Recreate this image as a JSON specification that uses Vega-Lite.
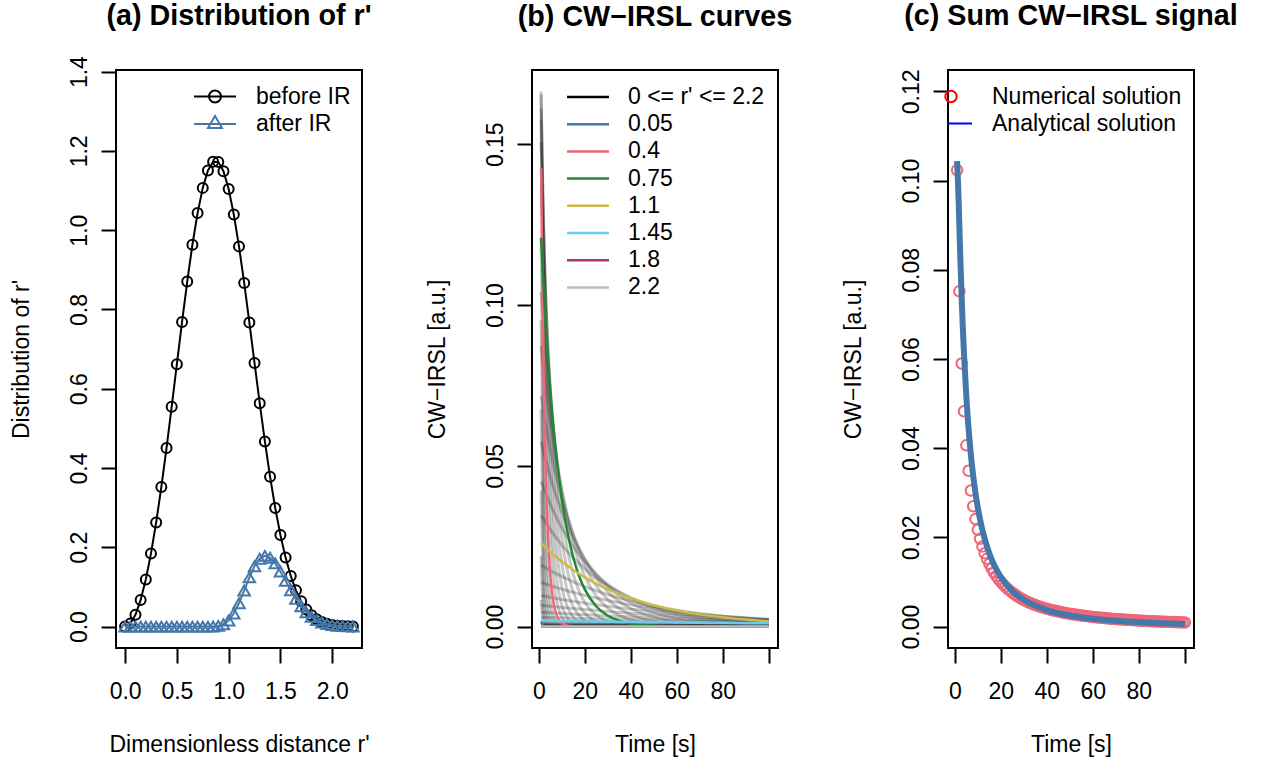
{
"$schema":"https://vega.github.io/schema/vega-lite/v6.json",
"background":"white",
"padding":{"left":9,"top":1,"right":5,"bottom":5},
"config":{
 "view":{"stroke":"black","strokeWidth":2},
 "font":"Liberation Sans",
 "axis":{"grid":false,"domain":false,"ticks":true,"tickSize":15,"tickWidth":2,"tickColor":"black","labelFont":"Liberation Sans","labelFontSize":23,"labelColor":"black","titleFont":"Liberation Sans","titleFontSize":23,"titleFontWeight":"normal","titleColor":"black","labelFlush":false,"labelOverlap":false,"labelBound":false},
 "axisX":{"labelPadding":35,"labelBaseline":"alphabetic","labelAngle":0,"labelAlign":"center","titleBaseline":"alphabetic","titleY":103},
 "axisY":{"labelAngle":270,"labelAlign":"center","labelBaseline":"alphabetic","labelPadding":15,"titleAngle":270,"titleX":-88,"titleBaseline":"alphabetic","titleAlign":"center"},
 "title":{"font":"Liberation Sans","fontSize":28.7,"fontWeight":"bold","color":"black","anchor":"middle","baseline":"alphabetic"},
 "legend":{"labelFont":"Liberation Sans","labelFontSize":23,"labelColor":"black","padding":0,"orient":"none","labelLimit":400,"symbolStrokeWidth":2,"rowPadding":3,"symbolOpacity":1}
},
"datasets":{
"dist":[
{"r":0,"v":0,"s":"before"},{"r":0.05,"v":0.0075,"s":"before"},{"r":0.1,"v":0.02997,"s":"before"},{"r":0.15,"v":0.06727,"s":"before"},{"r":0.2,"v":0.11904,"s":"before"},{"r":0.25,"v":0.18459,"s":"before"},{"r":0.3,"v":0.26281,"s":"before"},{"r":0.35,"v":0.35208,"s":"before"},{"r":0.4,"v":0.45024,"s":"before"},{"r":0.45,"v":0.55459,"s":"before"},{"r":0.5,"v":0.66188,"s":"before"},{"r":0.55,"v":0.76841,"s":"before"},{"r":0.6,"v":0.8702,"s":"before"},{"r":0.65,"v":0.96314,"s":"before"},{"r":0.7,"v":1.04314,"s":"before"},{"r":0.75,"v":1.10666,"s":"before"},{"r":0.8,"v":1.15066,"s":"before"},{"r":0.85,"v":1.17281,"s":"before"},{"r":0.9,"v":1.17223,"s":"before"},{"r":0.95,"v":1.14869,"s":"before"},{"r":1.0,"v":1.10364,"s":"before"},{"r":1.05,"v":1.03931,"s":"before"},{"r":1.1,"v":0.95908,"s":"before"},{"r":1.15,"v":0.86698,"s":"before"},{"r":1.2,"v":0.76736,"s":"before"},{"r":1.25,"v":0.66488,"s":"before"},{"r":1.3,"v":0.56353,"s":"before"},{"r":1.35,"v":0.46698,"s":"before"},{"r":1.4,"v":0.37815,"s":"before"},{"r":1.45,"v":0.29911,"s":"before"},{"r":1.5,"v":0.231,"s":"before"},{"r":1.55,"v":0.174,"s":"before"},{"r":1.6,"v":0.12774,"s":"before"},{"r":1.65,"v":0.09145,"s":"before"},{"r":1.7,"v":0.06369,"s":"before"},{"r":1.75,"v":0.04319,"s":"before"},{"r":1.8,"v":0.02848,"s":"before"},{"r":1.85,"v":0.01828,"s":"before"},{"r":1.9,"v":0.01137,"s":"before"},{"r":1.95,"v":0.00687,"s":"before"},{"r":2.0,"v":0.00403,"s":"before"},{"r":2.05,"v":0.00228,"s":"before"},{"r":2.1,"v":0.00126,"s":"before"},{"r":2.15,"v":0.00067,"s":"before"},{"r":2.2,"v":0.00034,"s":"before"},
{"r":0,"v":0,"s":"after"},{"r":0.05,"v":0,"s":"after"},{"r":0.1,"v":0,"s":"after"},{"r":0.15,"v":0,"s":"after"},{"r":0.2,"v":0,"s":"after"},{"r":0.25,"v":0,"s":"after"},{"r":0.3,"v":0,"s":"after"},{"r":0.35,"v":0,"s":"after"},{"r":0.4,"v":0,"s":"after"},{"r":0.45,"v":0,"s":"after"},{"r":0.5,"v":0,"s":"after"},{"r":0.55,"v":0,"s":"after"},{"r":0.6,"v":0,"s":"after"},{"r":0.65,"v":0,"s":"after"},{"r":0.7,"v":0,"s":"after"},{"r":0.75,"v":0,"s":"after"},{"r":0.8,"v":0.00005,"s":"after"},{"r":0.85,"v":0.00037,"s":"after"},{"r":0.9,"v":0.00171,"s":"after"},{"r":0.95,"v":0.00586,"s":"after"},{"r":1.0,"v":0.01548,"s":"after"},{"r":1.05,"v":0.03303,"s":"after"},{"r":1.1,"v":0.05903,"s":"after"},{"r":1.15,"v":0.091,"s":"after"},{"r":1.2,"v":0.12404,"s":"after"},{"r":1.25,"v":0.15236,"s":"after"},{"r":1.3,"v":0.17126,"s":"after"},{"r":1.35,"v":0.17828,"s":"after"},{"r":1.4,"v":0.17361,"s":"after"},{"r":1.45,"v":0.15942,"s":"after"},{"r":1.5,"v":0.13889,"s":"after"},{"r":1.55,"v":0.11533,"s":"after"},{"r":1.6,"v":0.09161,"s":"after"},{"r":1.65,"v":0.06989,"s":"after"},{"r":1.7,"v":0.05125,"s":"after"},{"r":1.75,"v":0.03623,"s":"after"},{"r":1.8,"v":0.02471,"s":"after"},{"r":1.85,"v":0.0163,"s":"after"},{"r":1.9,"v":0.01036,"s":"after"},{"r":1.95,"v":0.00637,"s":"after"},{"r":2.0,"v":0.00379,"s":"after"},{"r":2.05,"v":0.00217,"s":"after"},{"r":2.1,"v":0.00121,"s":"after"},{"r":2.15,"v":0.00065,"s":"after"},{"r":2.2,"v":0.00033,"s":"after"}
],
"curves":[
{"r":0,"t":1,"L":0},{"r":0,"t":100,"L":0},
{"r":0.05,"s":"0.05","t":1,"L":0.00161},{"r":0.05,"s":"0.05","t":2,"L":0.00014},{"r":0.05,"s":"0.05","t":3,"L":0.00001},{"r":0.05,"s":"0.05","t":4,"L":0},{"r":0.05,"s":"0.05","t":100,"L":0},
{"r":0.1,"t":1,"L":0.00827},{"r":0.1,"t":2,"L":0.00116},{"r":0.1,"t":3,"L":0.00016},{"r":0.1,"t":4,"L":0.00002},{"r":0.1,"t":5,"L":0},{"r":0.1,"t":100,"L":0},
{"r":0.15,"t":1,"L":0.02185},{"r":0.15,"t":2,"L":0.00448},{"r":0.15,"t":3,"L":0.00092},{"r":0.15,"t":4,"L":0.00019},{"r":0.15,"t":5,"L":0.00004},{"r":0.15,"t":6,"L":0},{"r":0.15,"t":100,"L":0},
{"r":0.2,"t":1,"L":0.04235},{"r":0.2,"t":2,"L":0.01176},{"r":0.2,"t":3,"L":0.00326},{"r":0.2,"t":4,"L":0.00091},{"r":0.2,"t":5,"L":0.00025},{"r":0.2,"t":6,"L":0.00007},{"r":0.2,"t":7,"L":0.00002},{"r":0.2,"t":8,"L":0},{"r":0.2,"t":100,"L":0},
{"r":0.25,"t":1,"L":0.06749},{"r":0.25,"t":2,"L":0.02382},{"r":0.25,"t":3,"L":0.00841},{"r":0.25,"t":4,"L":0.00297},{"r":0.25,"t":5,"L":0.00105},{"r":0.25,"t":6,"L":0.00037},{"r":0.25,"t":7,"L":0.00013},{"r":0.25,"t":8,"L":0.00005},{"r":0.25,"t":9,"L":0.00002},{"r":0.25,"t":10,"L":0},{"r":0.25,"t":100,"L":0},
{"r":0.3,"t":1,"L":0.09526},{"r":0.3,"t":2,"L":0.04122},{"r":0.3,"t":3,"L":0.01784},{"r":0.3,"t":4,"L":0.00772},{"r":0.3,"t":5,"L":0.00334},{"r":0.3,"t":6,"L":0.00145},{"r":0.3,"t":7,"L":0.00063},{"r":0.3,"t":8,"L":0.00027},{"r":0.3,"t":9,"L":0.00012},{"r":0.3,"t":10,"L":0.00005},{"r":0.3,"t":11,"L":0.00002},{"r":0.3,"t":12,"L":0},{"r":0.3,"t":100,"L":0},
{"r":0.35,"t":1,"L":0.12112},{"r":0.35,"t":2,"L":0.06154},{"r":0.35,"t":3,"L":0.03127},{"r":0.35,"t":4,"L":0.01589},{"r":0.35,"t":5,"L":0.00807},{"r":0.35,"t":6,"L":0.0041},{"r":0.35,"t":7,"L":0.00208},{"r":0.35,"t":8,"L":0.00106},{"r":0.35,"t":9,"L":0.00054},{"r":0.35,"t":10,"L":0.00027},{"r":0.35,"t":12,"L":0.00007},{"r":0.35,"t":14,"L":0.00002},{"r":0.35,"t":16,"L":0},{"r":0.35,"t":100,"L":0},
{"r":0.4,"s":"0.4","t":1,"L":0.14256},{"r":0.4,"s":"0.4","t":2,"L":0.08246},{"r":0.4,"s":"0.4","t":3,"L":0.0477},{"r":0.4,"s":"0.4","t":4,"L":0.02759},{"r":0.4,"s":"0.4","t":5,"L":0.01596},{"r":0.4,"s":"0.4","t":6,"L":0.00923},{"r":0.4,"s":"0.4","t":7,"L":0.00534},{"r":0.4,"s":"0.4","t":8,"L":0.00309},{"r":0.4,"s":"0.4","t":9,"L":0.00179},{"r":0.4,"s":"0.4","t":10,"L":0.00103},{"r":0.4,"s":"0.4","t":12,"L":0.00035},{"r":0.4,"s":"0.4","t":14,"L":0.00012},{"r":0.4,"s":"0.4","t":16,"L":0.00004},{"r":0.4,"s":"0.4","t":18,"L":0.00001},{"r":0.4,"s":"0.4","t":20,"L":0},{"r":0.4,"s":"0.4","t":100,"L":0},
{"r":0.45,"t":1,"L":0.15766},{"r":0.45,"t":2,"L":0.10128},{"r":0.45,"t":3,"L":0.06507},{"r":0.45,"t":4,"L":0.0418},{"r":0.45,"t":5,"L":0.02685},{"r":0.45,"t":6,"L":0.01725},{"r":0.45,"t":7,"L":0.01108},{"r":0.45,"t":8,"L":0.00712},{"r":0.45,"t":9,"L":0.00457},{"r":0.45,"t":10,"L":0.00294},{"r":0.45,"t":12,"L":0.00121},{"r":0.45,"t":14,"L":0.0005},{"r":0.45,"t":16,"L":0.00021},{"r":0.45,"t":18,"L":0.00009},{"r":0.45,"t":20,"L":0.00004},{"r":0.45,"t":25,"L":0},{"r":0.45,"t":100,"L":0},
{"r":0.5,"t":1,"L":0.16557},{"r":0.5,"t":2,"L":0.11577},{"r":0.5,"t":3,"L":0.08095},{"r":0.5,"t":4,"L":0.0566},{"r":0.5,"t":5,"L":0.03958},{"r":0.5,"t":6,"L":0.02768},{"r":0.5,"t":7,"L":0.01935},{"r":0.5,"t":8,"L":0.01353},{"r":0.5,"t":9,"L":0.00946},{"r":0.5,"t":10,"L":0.00662},{"r":0.5,"t":12,"L":0.00323},{"r":0.5,"t":14,"L":0.00158},{"r":0.5,"t":16,"L":0.00077},{"r":0.5,"t":18,"L":0.00038},{"r":0.5,"t":20,"L":0.00018},{"r":0.5,"t":25,"L":0.00003},{"r":0.5,"t":30,"L":0.00001},{"r":0.5,"t":40,"L":0},{"r":0.5,"t":100,"L":0},
{"r":0.55,"t":1,"L":0.16643},{"r":0.55,"t":2,"L":0.12463},{"r":0.55,"t":3,"L":0.09332},{"r":0.55,"t":4,"L":0.06988},{"r":0.55,"t":5,"L":0.05233},{"r":0.55,"t":6,"L":0.03919},{"r":0.55,"t":7,"L":0.02934},{"r":0.55,"t":8,"L":0.02197},{"r":0.55,"t":9,"L":0.01646},{"r":0.55,"t":10,"L":0.01232},{"r":0.55,"t":12,"L":0.00691},{"r":0.55,"t":14,"L":0.00387},{"r":0.55,"t":16,"L":0.00217},{"r":0.55,"t":18,"L":0.00122},{"r":0.55,"t":20,"L":0.00068},{"r":0.55,"t":25,"L":0.00016},{"r":0.55,"t":30,"L":0.00004},{"r":0.55,"t":35,"L":0.00001},{"r":0.55,"t":40,"L":0},{"r":0.55,"t":100,"L":0},
{"r":0.6,"t":1,"L":0.16105},{"r":0.6,"t":2,"L":0.12747},{"r":0.6,"t":3,"L":0.10089},{"r":0.6,"t":4,"L":0.07986},{"r":0.6,"t":5,"L":0.06321},{"r":0.6,"t":6,"L":0.05003},{"r":0.6,"t":7,"L":0.0396},{"r":0.6,"t":8,"L":0.03134},{"r":0.6,"t":9,"L":0.02481},{"r":0.6,"t":10,"L":0.01964},{"r":0.6,"t":12,"L":0.0123},{"r":0.6,"t":14,"L":0.00771},{"r":0.6,"t":16,"L":0.00483},{"r":0.6,"t":18,"L":0.00302},{"r":0.6,"t":20,"L":0.00189},{"r":0.6,"t":25,"L":0.00059},{"r":0.6,"t":30,"L":0.00018},{"r":0.6,"t":35,"L":0.00006},{"r":0.6,"t":40,"L":0.00002},{"r":0.6,"t":50,"L":0},{"r":0.6,"t":100,"L":0},
{"r":0.65,"t":1,"L":0.1507},{"r":0.65,"t":2,"L":0.12474},{"r":0.65,"t":3,"L":0.10326},{"r":0.65,"t":4,"L":0.08547},{"r":0.65,"t":5,"L":0.07075},{"r":0.65,"t":6,"L":0.05857},{"r":0.65,"t":7,"L":0.04848},{"r":0.65,"t":8,"L":0.04013},{"r":0.65,"t":9,"L":0.03322},{"r":0.65,"t":10,"L":0.0275},{"r":0.65,"t":12,"L":0.01884},{"r":0.65,"t":14,"L":0.01291},{"r":0.65,"t":16,"L":0.00885},{"r":0.65,"t":18,"L":0.00606},{"r":0.65,"t":20,"L":0.00415},{"r":0.65,"t":25,"L":0.00161},{"r":0.65,"t":30,"L":0.00063},{"r":0.65,"t":35,"L":0.00024},{"r":0.65,"t":40,"L":0.00009},{"r":0.65,"t":50,"L":0.00001},{"r":0.65,"t":60,"L":0},{"r":0.65,"t":100,"L":0},
{"r":0.7,"t":1,"L":0.13682},{"r":0.7,"t":2,"L":0.11743},{"r":0.7,"t":3,"L":0.10079},{"r":0.7,"t":4,"L":0.08651},{"r":0.7,"t":5,"L":0.07425},{"r":0.7,"t":6,"L":0.06372},{"r":0.7,"t":7,"L":0.05469},{"r":0.7,"t":8,"L":0.04694},{"r":0.7,"t":9,"L":0.04029},{"r":0.7,"t":10,"L":0.03458},{"r":0.7,"t":12,"L":0.02547},{"r":0.7,"t":14,"L":0.01877},{"r":0.7,"t":16,"L":0.01382},{"r":0.7,"t":18,"L":0.01018},{"r":0.7,"t":20,"L":0.0075},{"r":0.7,"t":25,"L":0.00349},{"r":0.7,"t":30,"L":0.00163},{"r":0.7,"t":35,"L":0.00076},{"r":0.7,"t":40,"L":0.00035},{"r":0.7,"t":50,"L":0.00008},{"r":0.7,"t":60,"L":0.00002},{"r":0.7,"t":70,"L":0},{"r":0.7,"t":100,"L":0},
{"r":0.75,"s":"0.75","t":1,"L":0.12083},{"r":0.75,"s":"0.75","t":2,"L":0.10679},{"r":0.75,"s":"0.75","t":3,"L":0.09438},{"r":0.75,"s":"0.75","t":4,"L":0.08341},{"r":0.75,"s":"0.75","t":5,"L":0.07372},{"r":0.75,"s":"0.75","t":6,"L":0.06515},{"r":0.75,"s":"0.75","t":7,"L":0.05758},{"r":0.75,"s":"0.75","t":8,"L":0.05089},{"r":0.75,"s":"0.75","t":9,"L":0.04498},{"r":0.75,"s":"0.75","t":10,"L":0.03975},{"r":0.75,"s":"0.75","t":12,"L":0.03105},{"r":0.75,"s":"0.75","t":14,"L":0.02425},{"r":0.75,"s":"0.75","t":16,"L":0.01894},{"r":0.75,"s":"0.75","t":18,"L":0.0148},{"r":0.75,"s":"0.75","t":20,"L":0.01156},{"r":0.75,"s":"0.75","t":25,"L":0.00623},{"r":0.75,"s":"0.75","t":30,"L":0.00336},{"r":0.75,"s":"0.75","t":35,"L":0.00181},{"r":0.75,"s":"0.75","t":40,"L":0.00098},{"r":0.75,"s":"0.75","t":50,"L":0.00028},{"r":0.75,"s":"0.75","t":60,"L":0.00008},{"r":0.75,"s":"0.75","t":70,"L":0.00002},{"r":0.75,"s":"0.75","t":80,"L":0.00001},{"r":0.75,"s":"0.75","t":100,"L":0},
{"r":0.8,"t":1,"L":0.104},{"r":0.8,"t":2,"L":0.09411},{"r":0.8,"t":3,"L":0.08517},{"r":0.8,"t":4,"L":0.07707},{"r":0.8,"t":5,"L":0.06975},{"r":0.8,"t":6,"L":0.06312},{"r":0.8,"t":7,"L":0.05712},{"r":0.8,"t":8,"L":0.05169},{"r":0.8,"t":9,"L":0.04678},{"r":0.8,"t":10,"L":0.04233},{"r":0.8,"t":12,"L":0.03467},{"r":0.8,"t":14,"L":0.02839},{"r":0.8,"t":16,"L":0.02325},{"r":0.8,"t":18,"L":0.01904},{"r":0.8,"t":20,"L":0.01559},{"r":0.8,"t":25,"L":0.00946},{"r":0.8,"t":30,"L":0.00574},{"r":0.8,"t":35,"L":0.00349},{"r":0.8,"t":40,"L":0.00212},{"r":0.8,"t":50,"L":0.00078},{"r":0.8,"t":60,"L":0.00029},{"r":0.8,"t":70,"L":0.00011},{"r":0.8,"t":80,"L":0.00004},{"r":0.8,"t":90,"L":0.00001},{"r":0.8,"t":100,"L":0.00001},
{"r":0.85,"t":1,"L":0.08735},{"r":0.85,"t":2,"L":0.08058},{"r":0.85,"t":3,"L":0.07433},{"r":0.85,"t":4,"L":0.06856},{"r":0.85,"t":5,"L":0.06324},{"r":0.85,"t":6,"L":0.05834},{"r":0.85,"t":7,"L":0.05381},{"r":0.85,"t":8,"L":0.04964},{"r":0.85,"t":9,"L":0.04579},{"r":0.85,"t":10,"L":0.04224},{"r":0.85,"t":12,"L":0.03594},{"r":0.85,"t":14,"L":0.03058},{"r":0.85,"t":16,"L":0.02602},{"r":0.85,"t":18,"L":0.02214},{"r":0.85,"t":20,"L":0.01884},{"r":0.85,"t":25,"L":0.01258},{"r":0.85,"t":30,"L":0.0084},{"r":0.85,"t":35,"L":0.00561},{"r":0.85,"t":40,"L":0.00375},{"r":0.85,"t":50,"L":0.00167},{"r":0.85,"t":60,"L":0.00075},{"r":0.85,"t":70,"L":0.00033},{"r":0.85,"t":80,"L":0.00015},{"r":0.85,"t":90,"L":0.00007},{"r":0.85,"t":100,"L":0.00003},
{"r":0.9,"t":1,"L":0.07169},{"r":0.9,"t":2,"L":0.06716},{"r":0.9,"t":3,"L":0.06291},{"r":0.9,"t":4,"L":0.05894},{"r":0.9,"t":5,"L":0.05521},{"r":0.9,"t":6,"L":0.05172},{"r":0.9,"t":8,"L":0.04539},{"r":0.9,"t":10,"L":0.03984},{"r":0.9,"t":12,"L":0.03496},{"r":0.9,"t":15,"L":0.02874},{"r":0.9,"t":20,"L":0.02074},{"r":0.9,"t":25,"L":0.01496},{"r":0.9,"t":30,"L":0.0108},{"r":0.9,"t":40,"L":0.00562},{"r":0.9,"t":50,"L":0.00293},{"r":0.9,"t":60,"L":0.00152},{"r":0.9,"t":70,"L":0.00079},{"r":0.9,"t":80,"L":0.00041},{"r":0.9,"t":90,"L":0.00021},{"r":0.9,"t":100,"L":0.00011},
{"r":0.95,"t":1,"L":0.0575},{"r":0.95,"t":2,"L":0.05455},{"r":0.95,"t":3,"L":0.05174},{"r":0.95,"t":4,"L":0.04908},{"r":0.95,"t":5,"L":0.04656},{"r":0.95,"t":6,"L":0.04417},{"r":0.95,"t":8,"L":0.03974},{"r":0.95,"t":10,"L":0.03576},{"r":0.95,"t":12,"L":0.03218},{"r":0.95,"t":15,"L":0.02747},{"r":0.95,"t":20,"L":0.0211},{"r":0.95,"t":25,"L":0.0162},{"r":0.95,"t":30,"L":0.01245},{"r":0.95,"t":40,"L":0.00734},{"r":0.95,"t":50,"L":0.00433},{"r":0.95,"t":60,"L":0.00256},{"r":0.95,"t":70,"L":0.00151},{"r":0.95,"t":80,"L":0.00089},{"r":0.95,"t":90,"L":0.00052},{"r":0.95,"t":100,"L":0.00031},
{"r":1.0,"t":1,"L":0.04512},{"r":1.0,"t":2,"L":0.04323},{"r":1.0,"t":3,"L":0.04143},{"r":1.0,"t":4,"L":0.0397},{"r":1.0,"t":5,"L":0.03804},{"r":1.0,"t":6,"L":0.03645},{"r":1.0,"t":8,"L":0.03347},{"r":1.0,"t":10,"L":0.03073},{"r":1.0,"t":12,"L":0.02822},{"r":1.0,"t":15,"L":0.02483},{"r":1.0,"t":20,"L":0.02006},{"r":1.0,"t":25,"L":0.01621},{"r":1.0,"t":30,"L":0.01309},{"r":1.0,"t":40,"L":0.00855},{"r":1.0,"t":50,"L":0.00558},{"r":1.0,"t":60,"L":0.00364},{"r":1.0,"t":70,"L":0.00238},{"r":1.0,"t":80,"L":0.00155},{"r":1.0,"t":90,"L":0.00101},{"r":1.0,"t":100,"L":0.00066},
{"r":1.05,"t":1,"L":0.03463},{"r":1.05,"t":2,"L":0.03346},{"r":1.05,"t":3,"L":0.03232},{"r":1.05,"t":4,"L":0.03123},{"r":1.05,"t":5,"L":0.03017},{"r":1.05,"t":6,"L":0.02915},{"r":1.05,"t":8,"L":0.0272},{"r":1.05,"t":10,"L":0.02539},{"r":1.05,"t":12,"L":0.0237},{"r":1.05,"t":15,"L":0.02137},{"r":1.05,"t":20,"L":0.01798},{"r":1.05,"t":25,"L":0.01513},{"r":1.05,"t":30,"L":0.01274},{"r":1.05,"t":40,"L":0.00902},{"r":1.05,"t":50,"L":0.00639},{"r":1.05,"t":60,"L":0.00453},{"r":1.05,"t":70,"L":0.00321},{"r":1.05,"t":80,"L":0.00227},{"r":1.05,"t":90,"L":0.00161},{"r":1.05,"t":100,"L":0.00114},
{"r":1.1,"s":"1.1","t":1,"L":0.02601},{"r":1.1,"s":"1.1","t":2,"L":0.02529},{"r":1.1,"s":"1.1","t":3,"L":0.0246},{"r":1.1,"s":"1.1","t":4,"L":0.02392},{"r":1.1,"s":"1.1","t":5,"L":0.02326},{"r":1.1,"s":"1.1","t":6,"L":0.02262},{"r":1.1,"s":"1.1","t":8,"L":0.0214},{"r":1.1,"s":"1.1","t":10,"L":0.02024},{"r":1.1,"s":"1.1","t":12,"L":0.01914},{"r":1.1,"s":"1.1","t":15,"L":0.0176},{"r":1.1,"s":"1.1","t":20,"L":0.01531},{"r":1.1,"s":"1.1","t":25,"L":0.01332},{"r":1.1,"s":"1.1","t":30,"L":0.01159},{"r":1.1,"s":"1.1","t":40,"L":0.00877},{"r":1.1,"s":"1.1","t":50,"L":0.00663},{"r":1.1,"s":"1.1","t":60,"L":0.00502},{"r":1.1,"s":"1.1","t":70,"L":0.0038},{"r":1.1,"s":"1.1","t":80,"L":0.00287},{"r":1.1,"s":"1.1","t":90,"L":0.00217},{"r":1.1,"s":"1.1","t":100,"L":0.00165},
{"r":1.15,"t":1,"L":0.01911},{"r":1.15,"t":2,"L":0.01868},{"r":1.15,"t":3,"L":0.01827},{"r":1.15,"t":4,"L":0.01786},{"r":1.15,"t":5,"L":0.01746},{"r":1.15,"t":6,"L":0.01707},{"r":1.15,"t":8,"L":0.01632},{"r":1.15,"t":10,"L":0.0156},{"r":1.15,"t":12,"L":0.01491},{"r":1.15,"t":15,"L":0.01394},{"r":1.15,"t":20,"L":0.01245},{"r":1.15,"t":25,"L":0.01112},{"r":1.15,"t":30,"L":0.00994},{"r":1.15,"t":40,"L":0.00793},{"r":1.15,"t":50,"L":0.00633},{"r":1.15,"t":60,"L":0.00505},{"r":1.15,"t":70,"L":0.00403},{"r":1.15,"t":80,"L":0.00322},{"r":1.15,"t":90,"L":0.00257},{"r":1.15,"t":100,"L":0.00205},
{"r":1.2,"t":1,"L":0.01373},{"r":1.2,"t":2,"L":0.01348},{"r":1.2,"t":3,"L":0.01324},{"r":1.2,"t":4,"L":0.013},{"r":1.2,"t":5,"L":0.01277},{"r":1.2,"t":6,"L":0.01254},{"r":1.2,"t":8,"L":0.01209},{"r":1.2,"t":10,"L":0.01165},{"r":1.2,"t":12,"L":0.01124},{"r":1.2,"t":15,"L":0.01064},{"r":1.2,"t":20,"L":0.00971},{"r":1.2,"t":25,"L":0.00887},{"r":1.2,"t":30,"L":0.00809},{"r":1.2,"t":40,"L":0.00675},{"r":1.2,"t":50,"L":0.00562},{"r":1.2,"t":60,"L":0.00469},{"r":1.2,"t":70,"L":0.0039},{"r":1.2,"t":80,"L":0.00325},{"r":1.2,"t":90,"L":0.00271},{"r":1.2,"t":100,"L":0.00226},
{"r":1.25,"t":1,"L":0.00965},{"r":1.25,"t":10,"L":0.00845},{"r":1.25,"t":20,"L":0.0073},{"r":1.25,"t":30,"L":0.0063},{"r":1.25,"t":40,"L":0.00543},{"r":1.25,"t":50,"L":0.00469},{"r":1.25,"t":60,"L":0.00405},{"r":1.25,"t":70,"L":0.00349},{"r":1.25,"t":80,"L":0.00301},{"r":1.25,"t":90,"L":0.0026},{"r":1.25,"t":100,"L":0.00224},
{"r":1.3,"t":1,"L":0.00663},{"r":1.3,"t":10,"L":0.00596},{"r":1.3,"t":20,"L":0.00529},{"r":1.3,"t":30,"L":0.0047},{"r":1.3,"t":40,"L":0.00417},{"r":1.3,"t":50,"L":0.0037},{"r":1.3,"t":60,"L":0.00328},{"r":1.3,"t":70,"L":0.00292},{"r":1.3,"t":80,"L":0.00259},{"r":1.3,"t":90,"L":0.0023},{"r":1.3,"t":100,"L":0.00204},
{"r":1.35,"t":1,"L":0.00445},{"r":1.35,"t":10,"L":0.00408},{"r":1.35,"t":20,"L":0.00371},{"r":1.35,"t":30,"L":0.00337},{"r":1.35,"t":40,"L":0.00306},{"r":1.35,"t":50,"L":0.00278},{"r":1.35,"t":60,"L":0.00252},{"r":1.35,"t":70,"L":0.00229},{"r":1.35,"t":80,"L":0.00208},{"r":1.35,"t":90,"L":0.00189},{"r":1.35,"t":100,"L":0.00172},
{"r":1.4,"t":1,"L":0.00292},{"r":1.4,"t":10,"L":0.00272},{"r":1.4,"t":20,"L":0.00252},{"r":1.4,"t":30,"L":0.00233},{"r":1.4,"t":40,"L":0.00216},{"r":1.4,"t":50,"L":0.00199},{"r":1.4,"t":60,"L":0.00185},{"r":1.4,"t":70,"L":0.00171},{"r":1.4,"t":80,"L":0.00158},{"r":1.4,"t":90,"L":0.00146},{"r":1.4,"t":100,"L":0.00135},
{"r":1.45,"s":"1.45","t":1,"L":0.00187},{"r":1.45,"s":"1.45","t":10,"L":0.00177},{"r":1.45,"s":"1.45","t":20,"L":0.00166},{"r":1.45,"s":"1.45","t":30,"L":0.00156},{"r":1.45,"s":"1.45","t":40,"L":0.00146},{"r":1.45,"s":"1.45","t":50,"L":0.00137},{"r":1.45,"s":"1.45","t":60,"L":0.00129},{"r":1.45,"s":"1.45","t":70,"L":0.00121},{"r":1.45,"s":"1.45","t":80,"L":0.00114},{"r":1.45,"s":"1.45","t":90,"L":0.00107},{"r":1.45,"s":"1.45","t":100,"L":0.001},
{"r":1.5,"t":1,"L":0.00117},{"r":1.5,"t":10,"L":0.00112},{"r":1.5,"t":20,"L":0.00106},{"r":1.5,"t":30,"L":0.00101},{"r":1.5,"t":40,"L":0.00096},{"r":1.5,"t":50,"L":0.00091},{"r":1.5,"t":60,"L":0.00087},{"r":1.5,"t":70,"L":0.00082},{"r":1.5,"t":80,"L":0.00078},{"r":1.5,"t":90,"L":0.00074},{"r":1.5,"t":100,"L":0.00071},
{"r":1.55,"t":1,"L":0.00071},{"r":1.55,"t":50,"L":0.00058},{"r":1.55,"t":100,"L":0.00047},
{"r":1.6,"t":1,"L":0.00042},{"r":1.6,"t":50,"L":0.00036},{"r":1.6,"t":100,"L":0.0003},
{"r":1.65,"t":1,"L":0.00025},{"r":1.65,"t":50,"L":0.00021},{"r":1.65,"t":100,"L":0.00019},
{"r":1.7,"t":1,"L":0.00014},{"r":1.7,"t":50,"L":0.00012},{"r":1.7,"t":100,"L":0.00011},
{"r":1.75,"t":1,"L":0.00008},{"r":1.75,"t":100,"L":0.00006},
{"r":1.8,"s":"1.8","t":1,"L":0.00004},{"r":1.8,"s":"1.8","t":100,"L":0.00004},
{"r":1.85,"t":1,"L":0.00002},{"r":1.85,"t":100,"L":0.00002},
{"r":1.9,"t":1,"L":0.00001},{"r":1.9,"t":100,"L":0.00001},
{"r":1.95,"t":1,"L":0},{"r":1.95,"t":100,"L":0},
{"r":2.0,"t":1,"L":0},{"r":2.0,"t":100,"L":0},
{"r":2.05,"t":1,"L":0},{"r":2.05,"t":100,"L":0},
{"r":2.1,"t":1,"L":0},{"r":2.1,"t":100,"L":0},
{"r":2.15,"t":1,"L":0},{"r":2.15,"t":100,"L":0},
{"r":2.2,"s":"2.2","t":1,"L":0},{"r":2.2,"s":"2.2","t":100,"L":0}
],
"num":[
{"t":1,"L":0.10235},{"t":2,"L":0.07517},{"t":3,"L":0.059},{"t":4,"L":0.04828},{"t":5,"L":0.04065},{"t":6,"L":0.03494},{"t":7,"L":0.03052},{"t":8,"L":0.02698},{"t":9,"L":0.0241},{"t":10,"L":0.02171},
{"t":11,"L":0.01967},{"t":12,"L":0.01798},{"t":13,"L":0.01647},{"t":14,"L":0.01519},{"t":15,"L":0.01408},{"t":16,"L":0.01305},{"t":17,"L":0.01216},{"t":18,"L":0.01137},{"t":19,"L":0.01067},{"t":20,"L":0.01005},
{"t":21,"L":0.00945},{"t":22,"L":0.00892},{"t":23,"L":0.00843},{"t":24,"L":0.00799},{"t":25,"L":0.0076},{"t":26,"L":0.00721},{"t":27,"L":0.00686},{"t":28,"L":0.00654},{"t":29,"L":0.00625},{"t":30,"L":0.00597},
{"t":31,"L":0.00571},{"t":32,"L":0.00546},{"t":33,"L":0.00523},{"t":34,"L":0.00502},{"t":35,"L":0.00482},{"t":36,"L":0.00463},{"t":37,"L":0.00446},{"t":38,"L":0.0043},{"t":39,"L":0.00414},{"t":40,"L":0.004},
{"t":41,"L":0.00386},{"t":42,"L":0.00372},{"t":43,"L":0.00359},{"t":44,"L":0.00347},{"t":45,"L":0.00336},{"t":46,"L":0.00325},{"t":47,"L":0.00315},{"t":48,"L":0.00305},{"t":49,"L":0.00296},{"t":50,"L":0.00288},
{"t":51,"L":0.00279},{"t":52,"L":0.00271},{"t":53,"L":0.00263},{"t":54,"L":0.00255},{"t":55,"L":0.00248},{"t":56,"L":0.00241},{"t":57,"L":0.00235},{"t":58,"L":0.00229},{"t":59,"L":0.00223},{"t":60,"L":0.00217},
{"t":61,"L":0.00211},{"t":62,"L":0.00206},{"t":63,"L":0.00201},{"t":64,"L":0.00196},{"t":65,"L":0.00191},{"t":66,"L":0.00186},{"t":67,"L":0.00182},{"t":68,"L":0.00177},{"t":69,"L":0.00173},{"t":70,"L":0.00169},
{"t":71,"L":0.00165},{"t":72,"L":0.00162},{"t":73,"L":0.00158},{"t":74,"L":0.00154},{"t":75,"L":0.00151},{"t":76,"L":0.00148},{"t":77,"L":0.00145},{"t":78,"L":0.00142},{"t":79,"L":0.00139},{"t":80,"L":0.00136},
{"t":81,"L":0.00133},{"t":82,"L":0.0013},{"t":83,"L":0.00127},{"t":84,"L":0.00125},{"t":85,"L":0.00122},{"t":86,"L":0.0012},{"t":87,"L":0.00118},{"t":88,"L":0.00115},{"t":89,"L":0.00113},{"t":90,"L":0.00111},
{"t":91,"L":0.00109},{"t":92,"L":0.00107},{"t":93,"L":0.00105},{"t":94,"L":0.00103},{"t":95,"L":0.00101},{"t":96,"L":0.00099},{"t":97,"L":0.00098},{"t":98,"L":0.00096},{"t":99,"L":0.00094},{"t":100,"L":0.00092}
],
"ana":[
{"t":1,"L":0.10434},{"t":1.5,"L":0.09811},{"t":2,"L":0.08942},{"t":2.5,"L":0.081},{"t":3,"L":0.07346},{"t":3.5,"L":0.06686},{"t":4,"L":0.06109},{"t":5,"L":0.05163},{"t":6,"L":0.04427},{"t":7,"L":0.03844},{"t":8,"L":0.03373},{"t":9,"L":0.02986},{"t":10,"L":0.02664},{"t":12,"L":0.02161},{"t":15,"L":0.0164},{"t":20,"L":0.01111},{"t":25,"L":0.008},{"t":30,"L":0.00601},{"t":40,"L":0.00371},{"t":50,"L":0.00248},{"t":60,"L":0.00175},{"t":70,"L":0.00129},{"t":80,"L":0.00098},{"t":90,"L":0.00076},{"t":100,"L":0.0006}
]
},
"hconcat":[
{
 "width":246,"height":578,
 "title":{"text":"(a) Distribution of r'","offset":24.5},
 "data":{"name":"dist"},
 "encoding":{
  "x":{"field":"r","type":"quantitative","scale":{"domain":[-0.088,2.288],"nice":false,"zero":false},"axis":{"values":[0,0.5,1,1.5,2],"format":".1f","title":"Dimensionless distance r'"}},
  "y":{"field":"v","type":"quantitative","scale":{"domain":[-0.054,1.404],"nice":false,"zero":false},"axis":{"values":[0,0.2,0.4,0.6,0.8,1,1.2,1.4],"format":".1f","title":"Distribution of r'"}}
 },
 "layer":[
  {"transform":[{"filter":"datum.s == 'before'"}],"mark":{"type":"line","color":"black","strokeWidth":2}},
  {"transform":[{"filter":"datum.s == 'before'"}],"mark":{"type":"point","shape":"circle","size":100,"color":"black","strokeWidth":2,"filled":false,"opacity":1}},
  {"transform":[{"filter":"datum.s == 'after'"}],"mark":{"type":"line","color":"#4477AA","strokeWidth":2}},
  {"transform":[{"filter":"datum.s == 'after'"}],"mark":{"type":"point","shape":"triangle-up","size":130,"color":"#4477AA","strokeWidth":2,"filled":false,"opacity":1}},
  {"data":{"values":[{"k":"before IR"},{"k":"after IR"}]},"transform":[{"filter":"false"}],
   "mark":{"type":"point","filled":false,"strokeWidth":2,"size":441},
   "encoding":{
    "color":{"field":"k","type":"nominal","scale":{"domain":["before IR","after IR"],"range":["black","#4477AA"]},"legend":{"title":null,"orient":"none","legendX":87.5,"legendY":15,"labelOffset":29.5,"rowPadding":2.5,"symbolSize":441,"symbolStrokeWidth":2}},
    "shape":{"field":"k","type":"nominal","scale":{"domain":["before IR","after IR"],"range":["M-2,0H2M0.571,0A0.571,0.571,0,1,1,-0.571,0A0.571,0.571,0,1,1,0.571,0","M-2,0H2M0,-0.76L0.667,0.38L-0.667,0.38Z"]},"legend":{"title":null,"orient":"none","legendX":87.5,"legendY":15,"labelOffset":29.5,"rowPadding":2.5,"symbolSize":441,"symbolStrokeWidth":2}}
   }}
 ]
},
{
 "width":246,"height":578,
 "title":{"text":"(b) CW−IRSL curves","offset":38},
 "data":{"name":"curves"},
 "encoding":{
  "x":{"field":"t","type":"quantitative","scale":{"domain":[-2.96,103.96],"nice":false,"zero":false},"axis":{"values":[0,20,40,60,80,100],"labelExpr":"datum.value == 100 ? '' : datum.label","title":"Time [s]"}},
  "y":{"field":"L","type":"quantitative","scale":{"domain":[-0.00666,0.17309],"nice":false,"zero":false},"axis":{"values":[0,0.05,0.1,0.15],"format":".2f","title":"CW−IRSL [a.u.]"}}
 },
 "layer":[
  {"transform":[{"filter":"!isValid(datum.s)"}],"mark":{"type":"line","interpolate":"monotone","color":"black","opacity":0.22,"strokeWidth":3},"encoding":{"detail":{"field":"r","type":"nominal"}}},
  {"transform":[{"filter":"isValid(datum.s)"}],"mark":{"type":"line","interpolate":"monotone","strokeWidth":2.5},
   "encoding":{"detail":{"field":"r","type":"nominal"},
    "color":{"field":"s","type":"nominal","scale":{"domain":["0 <= r' <= 2.2","0.05","0.4","0.75","1.1","1.45","1.8","2.2"],"range":["black","#4477AA","#EE6677","#228833","#CCBB44","#66CCEE","#AA3377","#BBBBBB"]},
     "legend":{"title":null,"orient":"none","legendX":44,"legendY":15,"labelOffset":28,"rowPadding":3.2,"symbolType":"M-2,0H2","symbolSize":441,"symbolStrokeWidth":2.5}}}}
 ]
},
{
 "width":246,"height":578,
 "title":{"text":"(c) Sum CW−IRSL signal","offset":38},
 "encoding":{
  "x":{"field":"t","type":"quantitative","scale":{"domain":[-2.96,103.96],"nice":false,"zero":false},"axis":{"values":[0,20,40,60,80,100],"labelExpr":"datum.value == 100 ? '' : datum.label","title":"Time [s]"}},
  "y":{"field":"L","type":"quantitative","scale":{"domain":[-0.0048,0.1248],"nice":false,"zero":false},"axis":{"values":[0,0.02,0.04,0.06,0.08,0.1,0.12],"format":".2f","title":"CW−IRSL [a.u.]"}}
 },
 "layer":[
  {"data":{"name":"num"},"mark":{"type":"point","shape":"circle","size":110,"color":"#EE6677","strokeWidth":2,"filled":false,"opacity":1}},
  {"data":{"name":"ana"},"mark":{"type":"line","interpolate":"monotone","color":"#4477AA","strokeWidth":6}},
  {"data":{"values":[{"k":"Numerical solution"},{"k":"Analytical solution"}]},"transform":[{"filter":"false"}],
   "mark":{"type":"point","filled":false,"strokeWidth":2,"size":441},
   "encoding":{
    "color":{"field":"k","type":"nominal","scale":{"domain":["Numerical solution","Analytical solution"],"range":["#FF0000","#0000FF"]},"legend":{"title":null,"orient":"none","legendX":-8.5,"legendY":15,"labelOffset":29.5,"rowPadding":3,"symbolSize":441,"symbolStrokeWidth":2}},
    "shape":{"field":"k","type":"nominal","scale":{"domain":["Numerical solution","Analytical solution"],"range":["M0.543,0A0.543,0.543,0,1,1,-0.543,0A0.543,0.543,0,1,1,0.543,0","M-0.38,0H2"]},"legend":{"title":null,"orient":"none","legendX":-8.5,"legendY":15,"labelOffset":29.5,"rowPadding":3,"symbolSize":441,"symbolStrokeWidth":2}}
   }}
 ]
}
],
"spacing":170,
"bounds":"flush",
"resolve":{"scale":{"x":"independent","y":"independent","color":"independent","shape":"independent"},"legend":{"color":"independent","shape":"independent"}}
}
